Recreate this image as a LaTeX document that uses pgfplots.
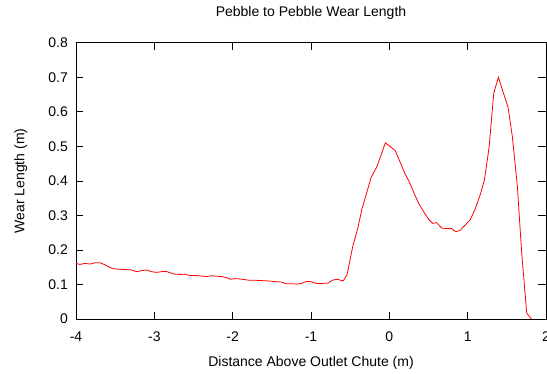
\documentclass[border=0pt]{standalone}
\usepackage{pgfplots}
\pgfplotsset{compat=1.18}
\usepackage{fontspec}
\setmainfont{Liberation Sans}
\begin{document}
\begin{tikzpicture}
\useasboundingbox (0,0) rectangle (547pt,373pt);
\begin{axis}[
  at={(76pt,54pt)}, anchor=south west,
  scale only axis, width=470pt, height=276.3pt,
  xmin=-4, xmax=2, ymin=0, ymax=0.8,
  xtick={-4,-3,-2,-1,0,1,2},
  ytick={0,0.1,0.2,0.3,0.4,0.5,0.6,0.7,0.8},
  /pgf/number format/assume math mode=true,
  yticklabel style={/pgf/number format/fixed, /pgf/number format/precision=1},
  tick label style={font=\fontsize{14}{16}\selectfont, inner sep=0pt},
  xticklabel style={anchor=north, yshift=-13pt},
  yticklabel style={anchor=east, xshift=-8pt},
  major tick length=7.5pt,
  tick style={black, line width=0.7pt},
  axis line style={line width=0.9pt},
  title={Pebble to Pebble Wear Length},
  title style={font=\fontsize{14}{16}\selectfont, at={(axis description cs:0.5,1.0749)}, anchor=base, inner sep=0pt},
  xlabel={Distance Above Outlet Chute (m)},
  xlabel style={font=\fontsize{14}{16}\selectfont, at={(axis description cs:0.5,-0.1737)}, anchor=base, inner sep=0pt},
  ylabel={Wear Length (m)},
  ylabel style={font=\fontsize{14}{16}\selectfont, at={(axis description cs:-0.1096,0.5)}, rotate=0, anchor=base, inner sep=0pt},
]
\addplot[red, line width=0.8pt, mark=none] coordinates {
(-4.00,0.161) (-3.95,0.158) (-3.885,0.161) (-3.82,0.159) (-3.758,0.163) (-3.694,0.163)
(-3.63,0.157) (-3.567,0.149) (-3.503,0.145) (-3.44,0.144) (-3.355,0.143) (-3.29,0.142)
(-3.227,0.137) (-3.163,0.140) (-3.10,0.142) (-3.036,0.137) (-2.97,0.135) (-2.91,0.137)
(-2.853,0.138) (-2.80,0.134) (-2.74,0.130) (-2.675,0.129) (-2.61,0.130) (-2.548,0.126)
(-2.484,0.126) (-2.42,0.125) (-2.335,0.123) (-2.27,0.125) (-2.208,0.124) (-2.144,0.123)
(-2.08,0.120) (-2.03,0.115) (-1.975,0.117) (-1.91,0.116) (-1.847,0.114) (-1.783,0.112)
(-1.70,0.112) (-1.614,0.111) (-1.53,0.110) (-1.444,0.108) (-1.38,0.107) (-1.316,0.102)
(-1.232,0.102) (-1.18,0.101) (-1.125,0.103) (-1.053,0.109) (-0.998,0.108) (-0.934,0.103)
(-0.87,0.103) (-0.785,0.104) (-0.72,0.113) (-0.66,0.115) (-0.59,0.110) (-0.54,0.128)
(-0.467,0.21) (-0.403,0.263) (-0.348,0.320) (-0.297,0.359) (-0.234,0.409) (-0.161,0.44)
(-0.106,0.474) (-0.051,0.51) (0.008,0.50) (0.076,0.487) (0.127,0.46) (0.195,0.423)
(0.255,0.397) (0.318,0.363) (0.374,0.335) (0.437,0.311) (0.50,0.289) (0.552,0.277)
(0.603,0.279) (0.671,0.263) (0.735,0.262) (0.794,0.262) (0.849,0.253) (0.90,0.256)
(0.968,0.272) (1.032,0.287) (1.095,0.318) (1.159,0.359) (1.214,0.402) (1.274,0.498)
(1.333,0.654) (1.393,0.70) (1.452,0.657) (1.516,0.613) (1.571,0.527) (1.635,0.383)
(1.69,0.19) (1.754,0.017) (1.813,0.0)
};
\end{axis}
\end{tikzpicture}
\end{document}
